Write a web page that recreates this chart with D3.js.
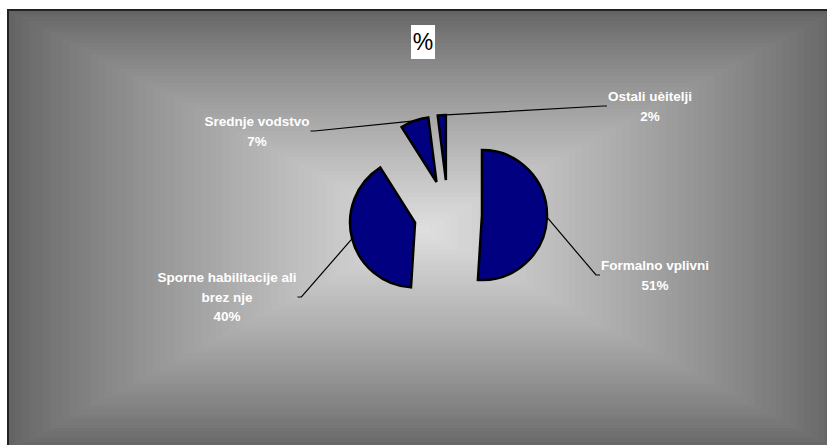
<!DOCTYPE html>
<html>
<head>
<meta charset="utf-8">
<script src="https://cdn.jsdelivr.net/npm/d3@7"></script>
<style>
  html, body { margin: 0; padding: 0; background: #fff; }
  svg { display: block; }
</style>
</head>
<body>
<div id="chart"></div>
<script>
// chart data
const categories = ['Formalno vplivni', 'Sporne habilitacije ali brez nje', 'Srednje vodstvo', 'Ostali uèitelji'];
const values = [51, 40, 7, 2];
const labelLines = [
    ['Formalno vplivni', '51%'],
    ['Sporne habilitacije ali', 'brez nje', '40%'],
    ['Srednje vodstvo', '7%'],
    ['Ostali uèitelji', '2%']
];
const title = '%';

// layout (label centres relative to pie centre, as placed in the original)
const labelOffsets = [[207, 61], [-221, 83], [-191, -83], [202, -108]];

const W = 827, H = 445;
const frame = { x: 8, y: 10, w: 830, h: 440 };
const center = { x: 448, y: 214 };
const RADIUS = 65;
const EXPLODE = 34;
const LINE_H = 19.5;

const svg = d3.select('#chart').append('svg')
    .attr('width', W)
    .attr('height', H);

// ── Background: rectangular "from centre" gradient, stepped ──
const bg = svg.append('g').attr('shape-rendering', 'crispEdges');
const steps = 60;
const fcx = frame.x + frame.w / 2, fcy = frame.y + frame.h / 2;
const shade = d3.interpolateRgb('#646464', '#e0e0e0');
d3.range(steps).forEach(i => {
    const t = i / steps;
    const hw = frame.w / 2 * (1 - t), hh = frame.h / 2 * (1 - t);
    bg.append('rect')
        .attr('x', Math.round(fcx - hw)).attr('y', Math.round(fcy - hh))
        .attr('width', Math.round(hw * 2)).attr('height', Math.round(hh * 2))
        .attr('fill', shade(Math.pow(t, 0.85)));
});
svg.append('rect')
    .attr('x', frame.x).attr('y', frame.y)
    .attr('width', frame.w).attr('height', frame.h)
    .attr('fill', 'none')
    .attr('stroke', '#222')
    .attr('stroke-width', 2);

// ── Title ──
const titleG = svg.append('g');
titleG.append('rect')
    .attr('x', 411).attr('y', 25)
    .attr('width', 24).attr('height', 34)
    .attr('fill', '#fff');
titleG.append('text')
    .attr('x', 423).attr('y', 50)
    .attr('text-anchor', 'middle')
    .style('font-family', '"Liberation Sans", Arial, sans-serif')
    .style('font-size', '23px')
    .style('fill', '#000')
    .text(title);

// ── Pie ──
const pie = d3.pie().sort(null).value(d => d)(values);
const arc = d3.arc().innerRadius(0).outerRadius(RADIUS);
const dir = a => [Math.sin(a), -Math.cos(a)];

const g = svg.append('g').attr('transform', `translate(${center.x},${center.y})`);

const labelFont = '"Liberation Sans", Arial, sans-serif';

// labels first (measure), then leader lines, then slices on top
const labelG = g.append('g');
const labels = pie.map((d, i) => {
    const [lx, ly] = labelOffsets[i];
    const lines = labelLines[i];
    const top = ly - (lines.length * LINE_H) / 2;
    const t = labelG.append('text')
        .attr('text-anchor', 'middle')
        .style('font-family', labelFont)
        .style('font-size', '13.5px')
        .style('font-weight', 'bold')
        .style('fill', '#fff');
    lines.forEach((s, k) => {
        t.append('tspan')
            .attr('x', lx)
            .attr('y', top + LINE_H * (k + 1) - 5)
            .text(s);
    });
    const bb = t.node().getBBox();
    return { lx, ly, bb, mid: top + lines.length * LINE_H / 2 };
});

const leaderG = g.insert('g', 'g');
pie.forEach((d, i) => {
    const mid = (d.startAngle + d.endAngle) / 2;
    const [ux, uy] = dir(mid);
    const px = ux * (EXPLODE + RADIUS), py = uy * (EXPLODE + RADIUS);
    const L = labels[i];
    const right = L.lx > 0;
    const ex = right ? L.bb.x - 1 : L.bb.x + L.bb.width + 1;
    const ey = L.mid;
    const stub = right ? -4 : 4;
    leaderG.append('path')
        .attr('d', d3.line()([[px, py], [ex + stub, ey], [ex, ey]]))
        .attr('fill', 'none')
        .attr('stroke', '#000')
        .attr('stroke-width', 1.2);
});

g.selectAll('.slice')
    .data(pie)
    .enter()
    .append('path')
    .attr('class', 'slice')
    .attr('transform', d => {
        const [ux, uy] = dir((d.startAngle + d.endAngle) / 2);
        return `translate(${ux * EXPLODE},${uy * EXPLODE})`;
    })
    .attr('d', arc)
    .attr('fill', '#000080')
    .attr('stroke', '#000')
    .attr('stroke-width', 2.5)
    .attr('stroke-linejoin', 'miter');

labelG.raise();
</script>
</body>
</html>
